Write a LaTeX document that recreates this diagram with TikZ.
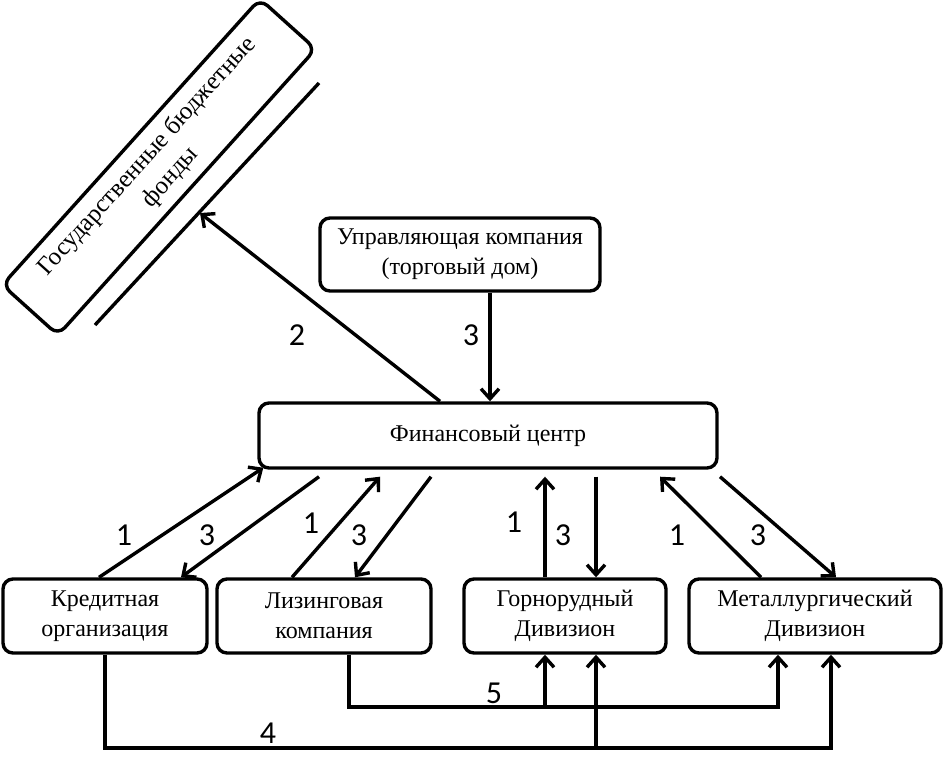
\documentclass[tikz,border=0pt]{standalone}
\usepackage{fontspec}
\setmainfont{Liberation Serif}
\newfontfamily\numfont{Carlito}
\usetikzlibrary{arrows.meta}

\begin{document}
\begin{tikzpicture}[
    x=1pt, y=-1pt,
    line width=3.4pt,
    org/.style={draw, rounded corners=10pt, align=center, inner sep=0pt,
        font=\fontsize{24}{30}\selectfont},
    num/.style={inner sep=0pt, font=\numfont\fontsize{32}{32}\selectfont},
    flow/.style={-{Straight Barb[length=10pt,width=18pt,line width=3.4pt]}}
]
\useasboundingbox (0,0) rectangle (944,758);

% boxes
\node[org, rotate=48, minimum width=385pt, minimum height=75pt,
    font=\fontsize{25}{31}\selectfont] (gbf) at (159,167)
    {Государственные бюджетные\\фонды};
\node[org, minimum width=280pt, minimum height=73pt] (uk) at (460,254.5)
    {Управляющая компания\\(торговый дом)};
\node[org, minimum width=458pt, minimum height=65pt] (fc) at (488,435.5) {Финансовый центр};
\node[org, minimum width=204pt, minimum height=74pt] (kred) at (105,616) {Кредитная\\организация};
\node[org, minimum width=214pt, minimum height=74pt] (liz) at (324,616) {Лизинговая\\компания};
\node[org, minimum width=202pt, minimum height=74pt] (gor) at (565,616) {Горнорудный\\Дивизион};
\node[org, minimum width=252pt, minimum height=74pt] (met) at (815,616) {Металлургический\\Дивизион};

% line beside the funds
\coordinate (ln1) at (95,325);
\coordinate (ln2) at (319,83);
\coordinate (lnp) at (200,213);
\draw (ln1) -- (ln2);

% upper flows
\draw[flow] ([xshift=-48pt]fc.north) -- (lnp);
\draw[flow] ([xshift=30pt]uk.south) -- ([xshift=30pt]uk.south |- fc.north);

% flows between the centre and the units
\draw[flow] ([xshift=-6pt]kred.north) -- ([xshift=6pt,yshift=2pt]fc.south west);
\draw[flow] ([xshift=-169pt,yshift=-7pt]fc.south) -- ([xshift=76pt]kred.north);
\draw[flow] ([xshift=-32pt]liz.north) -- ([xshift=-108pt,yshift=-7pt]fc.south);
\draw[flow] ([xshift=-57pt,yshift=-7pt]fc.south) -- ([xshift=31pt]liz.north);
\draw[flow] ([xshift=-20pt]gor.north) -- ([xshift=-20pt,yshift=-7pt]gor.north |- fc.south);
\draw[flow] ([xshift=31pt,yshift=-7pt]gor.north |- fc.south) -- ([xshift=31pt]gor.north);
\draw[flow] ([xshift=-54pt]met.north) -- ([xshift=172pt,yshift=-7pt]fc.south);
\draw[flow] ([xshift=232pt,yshift=-7pt]fc.south) -- ([xshift=21pt]met.north);

% lower flows
\coordinate (b4) at (105,748);
\coordinate (b5) at (349,707);
\coordinate (g4) at ([xshift=31pt]gor.south);
\coordinate (g5) at ([xshift=-20pt]gor.south);
\draw[flow] (kred.south) -- (b4) -| ([xshift=16pt]met.south);
\draw[flow] (b4 -| g4) -- (g4);
\draw[flow] ([xshift=25pt]liz.south) |- (b5) -| ([xshift=-37pt]met.south);
\draw[flow] (b5 -| g5) -- (g5);

% numbers
\node[num] (n2) at (297,335) {2};
\node[num] (n3u) at (471,335) {3};
\node[num] (n1k) at (124,535) {1};
\node[num] (n3k) at (207,535) {3};
\node[num] (n1l) at (311,523) {1};
\node[num] (n3l) at (359,535) {3};
\node[num] (n1g) at (514,522) {1};
\node[num] (n3g) at (563,535) {3};
\node[num] (n1m) at (677,535) {1};
\node[num] (n3m) at (758,535) {3};
\node[num] (n5) at (494,693) {5};
\node[num] (n4) at (268,733) {4};
\end{tikzpicture}
\end{document}
